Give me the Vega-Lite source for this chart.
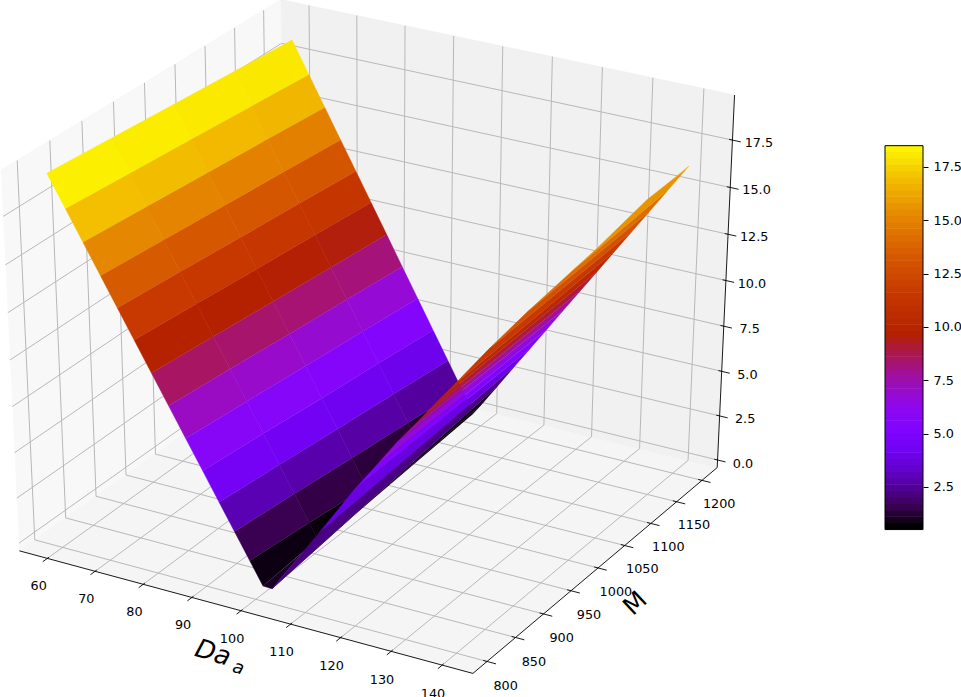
{"$schema":"https://vega.github.io/schema/vega-lite/v6.json","width":961,"height":697,"padding":0,"autosize":{"type":"none"},"background":"white","config":{"view":{"stroke":null},"font":"DejaVu Sans"},
"data":{"values":[
{"kind":"floor","p":"floor","da":[54.1,145.97,145.97,54.1],"m":[775.4,775.4,1230.4,1230.4],"z":[-0.432,-0.432,-0.432,-0.432]},
{"kind":"left","p":"left","da":[54.1,54.1,54.1,54.1],"m":[775.4,1230.4,1230.4,775.4],"z":[-0.432,-0.432,19.85,19.85]},
{"kind":"back","p":"back","da":[54.1,145.97,145.97,54.1],"m":[1230.4,1230.4,1230.4,1230.4],"z":[-0.432,-0.432,19.85,19.85]},
{"kind":"grid","p":"gd60","da":[60,60,60],"m":[775.4,1230.4,1230.4],"z":[-0.432,-0.432,19.85]},
{"kind":"grid","p":"gd70","da":[70,70,70],"m":[775.4,1230.4,1230.4],"z":[-0.432,-0.432,19.85]},
{"kind":"grid","p":"gd80","da":[80,80,80],"m":[775.4,1230.4,1230.4],"z":[-0.432,-0.432,19.85]},
{"kind":"grid","p":"gd90","da":[90,90,90],"m":[775.4,1230.4,1230.4],"z":[-0.432,-0.432,19.85]},
{"kind":"grid","p":"gd100","da":[100,100,100],"m":[775.4,1230.4,1230.4],"z":[-0.432,-0.432,19.85]},
{"kind":"grid","p":"gd110","da":[110,110,110],"m":[775.4,1230.4,1230.4],"z":[-0.432,-0.432,19.85]},
{"kind":"grid","p":"gd120","da":[120,120,120],"m":[775.4,1230.4,1230.4],"z":[-0.432,-0.432,19.85]},
{"kind":"grid","p":"gd130","da":[130,130,130],"m":[775.4,1230.4,1230.4],"z":[-0.432,-0.432,19.85]},
{"kind":"grid","p":"gd140","da":[140,140,140],"m":[775.4,1230.4,1230.4],"z":[-0.432,-0.432,19.85]},
{"kind":"grid","p":"gm800","da":[145.97,54.1,54.1],"m":[800,800,800],"z":[-0.432,-0.432,19.85]},
{"kind":"grid","p":"gm850","da":[145.97,54.1,54.1],"m":[850,850,850],"z":[-0.432,-0.432,19.85]},
{"kind":"grid","p":"gm900","da":[145.97,54.1,54.1],"m":[900,900,900],"z":[-0.432,-0.432,19.85]},
{"kind":"grid","p":"gm950","da":[145.97,54.1,54.1],"m":[950,950,950],"z":[-0.432,-0.432,19.85]},
{"kind":"grid","p":"gm1000","da":[145.97,54.1,54.1],"m":[1000,1000,1000],"z":[-0.432,-0.432,19.85]},
{"kind":"grid","p":"gm1050","da":[145.97,54.1,54.1],"m":[1050,1050,1050],"z":[-0.432,-0.432,19.85]},
{"kind":"grid","p":"gm1100","da":[145.97,54.1,54.1],"m":[1100,1100,1100],"z":[-0.432,-0.432,19.85]},
{"kind":"grid","p":"gm1150","da":[145.97,54.1,54.1],"m":[1150,1150,1150],"z":[-0.432,-0.432,19.85]},
{"kind":"grid","p":"gm1200","da":[145.97,54.1,54.1],"m":[1200,1200,1200],"z":[-0.432,-0.432,19.85]},
{"kind":"grid","p":"gz0","da":[54.1,54.1,145.97],"m":[775.4,1230.4,1230.4],"z":[0,0,0]},
{"kind":"grid","p":"gz2","da":[54.1,54.1,145.97],"m":[775.4,1230.4,1230.4],"z":[2.5,2.5,2.5]},
{"kind":"grid","p":"gz5","da":[54.1,54.1,145.97],"m":[775.4,1230.4,1230.4],"z":[5,5,5]},
{"kind":"grid","p":"gz7","da":[54.1,54.1,145.97],"m":[775.4,1230.4,1230.4],"z":[7.5,7.5,7.5]},
{"kind":"grid","p":"gz10","da":[54.1,54.1,145.97],"m":[775.4,1230.4,1230.4],"z":[10,10,10]},
{"kind":"grid","p":"gz12","da":[54.1,54.1,145.97],"m":[775.4,1230.4,1230.4],"z":[12.5,12.5,12.5]},
{"kind":"grid","p":"gz15","da":[54.1,54.1,145.97],"m":[775.4,1230.4,1230.4],"z":[15,15,15]},
{"kind":"grid","p":"gz17","da":[54.1,54.1,145.97],"m":[775.4,1230.4,1230.4],"z":[17.5,17.5,17.5]},
{"kind":"axis","p":"axd","da":[54.1,145.97],"m":[775.4,775.4],"z":[-0.432,-0.432]},
{"kind":"axis","p":"axm","da":[145.97,145.97],"m":[775.4,1230.4],"z":[-0.432,-0.432]},
{"kind":"axis","p":"axz","da":[145.97,145.97],"m":[1230.4,1230.4],"z":[-0.432,19.85]},
{"kind":"axis","p":"td60","da":[60,60],"m":[768,778],"z":[-0.432,-0.432]},
{"kind":"axis","p":"td70","da":[70,70],"m":[768,778],"z":[-0.432,-0.432]},
{"kind":"axis","p":"td80","da":[80,80],"m":[768,778],"z":[-0.432,-0.432]},
{"kind":"axis","p":"td90","da":[90,90],"m":[768,778],"z":[-0.432,-0.432]},
{"kind":"axis","p":"td100","da":[100,100],"m":[768,778],"z":[-0.432,-0.432]},
{"kind":"axis","p":"td110","da":[110,110],"m":[768,778],"z":[-0.432,-0.432]},
{"kind":"axis","p":"td120","da":[120,120],"m":[768,778],"z":[-0.432,-0.432]},
{"kind":"axis","p":"td130","da":[130,130],"m":[768,778],"z":[-0.432,-0.432]},
{"kind":"axis","p":"td140","da":[140,140],"m":[768,778],"z":[-0.432,-0.432]},
{"kind":"axis","p":"tm800","da":[145.2,147.7],"m":[800,800],"z":[-0.432,-0.432]},
{"kind":"axis","p":"tm850","da":[145.2,147.7],"m":[850,850],"z":[-0.432,-0.432]},
{"kind":"axis","p":"tm900","da":[145.2,147.7],"m":[900,900],"z":[-0.432,-0.432]},
{"kind":"axis","p":"tm950","da":[145.2,147.7],"m":[950,950],"z":[-0.432,-0.432]},
{"kind":"axis","p":"tm1000","da":[145.2,147.7],"m":[1000,1000],"z":[-0.432,-0.432]},
{"kind":"axis","p":"tm1050","da":[145.2,147.7],"m":[1050,1050],"z":[-0.432,-0.432]},
{"kind":"axis","p":"tm1100","da":[145.2,147.7],"m":[1100,1100],"z":[-0.432,-0.432]},
{"kind":"axis","p":"tm1150","da":[145.2,147.7],"m":[1150,1150],"z":[-0.432,-0.432]},
{"kind":"axis","p":"tm1200","da":[145.2,147.7],"m":[1200,1200],"z":[-0.432,-0.432]},
{"kind":"axis","p":"tz0","da":[145.3,147.6],"m":[1230.4,1230.4],"z":[0,0]},
{"kind":"axis","p":"tz2","da":[145.3,147.6],"m":[1230.4,1230.4],"z":[2.5,2.5]},
{"kind":"axis","p":"tz5","da":[145.3,147.6],"m":[1230.4,1230.4],"z":[5,5]},
{"kind":"axis","p":"tz7","da":[145.3,147.6],"m":[1230.4,1230.4],"z":[7.5,7.5]},
{"kind":"axis","p":"tz10","da":[145.3,147.6],"m":[1230.4,1230.4],"z":[10,10]},
{"kind":"axis","p":"tz12","da":[145.3,147.6],"m":[1230.4,1230.4],"z":[12.5,12.5]},
{"kind":"axis","p":"tz15","da":[145.3,147.6],"m":[1230.4,1230.4],"z":[15,15]},
{"kind":"axis","p":"tz17","da":[145.3,147.6],"m":[1230.4,1230.4],"z":[17.5,17.5]},
{"kind":"surf","p":"a1","da":[60,63.5,63.5,60],"m":[800,800,900,900],"z":[19.55,17.94,17.68,19.31]},
{"kind":"surf","p":"a2","da":[60,63.5,63.5,60],"m":[900,900,1000,1000],"z":[19.31,17.68,17.43,19.07]},
{"kind":"surf","p":"a3","da":[60,63.5,63.5,60],"m":[1000,1000,1100,1100],"z":[19.07,17.43,17.17,18.83]},
{"kind":"surf","p":"a4","da":[60,63.5,63.5,60],"m":[1100,1100,1200,1200],"z":[18.83,17.17,16.91,18.59]},
{"kind":"surf","p":"b1","da":[63.5,66.8,66.8,63.5],"m":[800,800,900,900],"z":[17.94,16.42,16.15,17.68]},
{"kind":"surf","p":"b2","da":[63.5,66.8,66.8,63.5],"m":[900,900,1000,1000],"z":[17.68,16.15,15.87,17.43]},
{"kind":"surf","p":"b3","da":[63.5,66.8,66.8,63.5],"m":[1000,1000,1100,1100],"z":[17.43,15.87,15.61,17.17]},
{"kind":"surf","p":"b4","da":[63.5,66.8,66.8,63.5],"m":[1100,1100,1200,1200],"z":[17.17,15.61,15.33,16.91]},
{"kind":"surf","p":"c1","da":[66.8,70.1,70.1,66.8],"m":[800,800,900,900],"z":[16.42,14.89,14.61,16.15]},
{"kind":"surf","p":"c2","da":[66.8,70.1,70.1,66.8],"m":[900,900,1000,1000],"z":[16.15,14.61,14.32,15.87]},
{"kind":"surf","p":"c3","da":[66.8,70.1,70.1,66.8],"m":[1000,1000,1100,1100],"z":[15.87,14.32,14.04,15.61]},
{"kind":"surf","p":"c4","da":[66.8,70.1,70.1,66.8],"m":[1100,1100,1200,1200],"z":[15.61,14.04,13.75,15.33]},
{"kind":"surf","p":"d1","da":[70.1,73.3,73.3,70.1],"m":[800,800,900,900],"z":[14.89,13.42,13.13,14.61]},
{"kind":"surf","p":"d2","da":[70.1,73.3,73.3,70.1],"m":[900,900,1000,1000],"z":[14.61,13.13,12.82,14.32]},
{"kind":"surf","p":"d3","da":[70.1,73.3,73.3,70.1],"m":[1000,1000,1100,1100],"z":[14.32,12.82,12.53,14.04]},
{"kind":"surf","p":"d4","da":[70.1,73.3,73.3,70.1],"m":[1100,1100,1200,1200],"z":[14.04,12.53,12.22,13.75]},
{"kind":"surf","p":"e1","da":[73.3,76.5,76.5,73.3],"m":[800,800,900,900],"z":[13.42,11.94,11.64,13.13]},
{"kind":"surf","p":"e2","da":[73.3,76.5,76.5,73.3],"m":[900,900,1000,1000],"z":[13.13,11.64,11.31,12.82]},
{"kind":"surf","p":"e3","da":[73.3,76.5,76.5,73.3],"m":[1000,1000,1100,1100],"z":[12.82,11.31,11.01,12.53]},
{"kind":"surf","p":"e4","da":[73.3,76.5,76.5,73.3],"m":[1100,1100,1200,1200],"z":[12.53,11.01,10.69,12.22]},
{"kind":"surf","p":"f1","da":[76.5,79.8,79.8,76.5],"m":[800,800,900,900],"z":[11.94,10.42,10.1,11.64]},
{"kind":"surf","p":"f2","da":[76.5,79.8,79.8,76.5],"m":[900,900,1000,1000],"z":[11.64,10.1,9.76,11.31]},
{"kind":"surf","p":"f3","da":[76.5,79.8,79.8,76.5],"m":[1000,1000,1100,1100],"z":[11.31,9.76,9.44,11.01]},
{"kind":"surf","p":"f4","da":[76.5,79.8,79.8,76.5],"m":[1100,1100,1200,1200],"z":[11.01,9.44,9.11,10.69]},
{"kind":"surf","p":"g1","da":[79.8,83.1,83.1,79.8],"m":[800,800,900,900],"z":[10.42,8.9,8.57,10.1]},
{"kind":"surf","p":"g2","da":[79.8,83.1,83.1,79.8],"m":[900,900,1000,1000],"z":[10.1,8.57,8.21,9.76]},
{"kind":"surf","p":"g3","da":[79.8,83.1,83.1,79.8],"m":[1000,1000,1100,1100],"z":[9.76,8.21,7.88,9.44]},
{"kind":"surf","p":"g4","da":[79.8,83.1,83.1,79.8],"m":[1100,1100,1200,1200],"z":[9.44,7.88,7.52,9.11]},
{"kind":"surf","p":"h1","da":[83.1,86.4,86.4,83.1],"m":[800,800,900,900],"z":[8.9,7.38,7.03,8.57]},
{"kind":"surf","p":"h2","da":[83.1,86.4,86.4,83.1],"m":[900,900,1000,1000],"z":[8.57,7.03,6.66,8.21]},
{"kind":"surf","p":"h3","da":[83.1,86.4,86.4,83.1],"m":[1000,1000,1100,1100],"z":[8.21,6.66,6.32,7.88]},
{"kind":"surf","p":"h4","da":[83.1,86.4,86.4,83.1],"m":[1100,1100,1200,1200],"z":[7.88,6.32,5.94,7.52]},
{"kind":"surf","p":"i1","da":[86.4,89.7,89.7,86.4],"m":[800,800,900,900],"z":[7.38,5.86,5.5,7.03]},
{"kind":"surf","p":"i2","da":[86.4,89.7,89.7,86.4],"m":[900,900,1000,1000],"z":[7.03,5.5,5.11,6.66]},
{"kind":"surf","p":"i3","da":[86.4,89.7,89.7,86.4],"m":[1000,1000,1100,1100],"z":[6.66,5.11,4.75,6.32]},
{"kind":"surf","p":"i4","da":[86.4,89.7,89.7,86.4],"m":[1100,1100,1200,1200],"z":[6.32,4.75,4.36,5.94]},
{"kind":"surf","p":"j1","da":[89.7,92.9,92.9,89.7],"m":[800,800,900,900],"z":[5.86,4.38,4.01,5.5]},
{"kind":"surf","p":"j2","da":[89.7,92.9,92.9,89.7],"m":[900,900,1000,1000],"z":[5.5,4.01,3.61,5.11]},
{"kind":"surf","p":"j3","da":[89.7,92.9,92.9,89.7],"m":[1000,1000,1100,1100],"z":[5.11,3.61,3.24,4.75]},
{"kind":"surf","p":"j4","da":[89.7,92.9,92.9,89.7],"m":[1100,1100,1200,1200],"z":[4.75,3.24,2.83,4.36]},
{"kind":"surf","p":"k1","da":[92.9,95.9,95.9,92.9],"m":[800,800,900,900],"z":[4.38,3,2.62,4.01]},
{"kind":"surf","p":"k2","da":[92.9,95.9,95.9,92.9],"m":[900,900,1000,1000],"z":[4.01,2.62,2.2,3.61]},
{"kind":"surf","p":"k3","da":[92.9,95.9,95.9,92.9],"m":[1000,1000,1100,1100],"z":[3.61,2.2,1.81,3.24]},
{"kind":"surf","p":"k4","da":[92.9,95.9,95.9,92.9],"m":[1100,1100,1200,1200],"z":[3.24,1.81,1.39,2.83]},
{"kind":"surf","p":"l1","da":[95.9,98.9,98.9,95.9],"m":[800,800,900,900],"z":[3,1.62,1.22,2.62]},
{"kind":"surf","p":"l2","da":[95.9,98.9,98.9,95.9],"m":[900,900,1000,1000],"z":[2.62,1.22,0.79,2.2]},
{"kind":"surf","p":"l3","da":[95.9,98.9,98.9,95.9],"m":[1000,1000,1100,1100],"z":[2.2,0.79,0.39,1.81]},
{"kind":"surf","p":"l4","da":[95.9,98.9,98,95.9],"m":[1100,1100,1200,1200],"z":[1.81,0.39,0.39,1.39]},
{"kind":"surf","p":"n1","da":[98.9,101.5,100.6,98.9],"m":[800,800,900,900],"z":[1.62,0.42,0.43,1.22]},
{"kind":"surf","p":"n2","da":[98.9,100.6,99.75,98.9],"m":[900,900,1000,1000],"z":[1.22,0.43,0.39,0.79]},
{"kind":"surf","p":"n3","da":[98.9,99.75,98.9],"m":[1000,1000,1100],"z":[0.79,0.39,0.39]},
{"kind":"surf","p":"w0","da":[100,100,98],"m":[971,1200,1200],"z":[0.05,0.77,0.05]},
{"kind":"surf","p":"wa","da":[101.5,103.33,106.67,100],"m":[800,800,852,971],"z":[0.42,0.4,2.4,0.4]},
{"kind":"surf","p":"w1","da":[100,103.33,103.33,100],"m":[971,800,1200,1200],"z":[0.05,0.4,2.05,0.77]},
{"kind":"surf","p":"w2","da":[103.33,106.67,106.67,103.33],"m":[800,852,1200,1200],"z":[0.4,2.4,3.34,2.05]},
{"kind":"surf","p":"w3","da":[106.67,110,110,106.67],"m":[852,883,1200,1200],"z":[2.4,4.2,4.62,3.34]},
{"kind":"surf","p":"w4","da":[110,113.33,113.33,110],"m":[883,891,1200,1200],"z":[4.2,5.5,5.9,4.62]},
{"kind":"surf","p":"w5","da":[113.33,116.67,116.67,113.33],"m":[891,900,1200,1200],"z":[5.5,6.85,7.19,5.9]},
{"kind":"surf","p":"w6","da":[116.67,120,120,116.67],"m":[900,904,1200,1200],"z":[6.85,8,8.47,7.19]},
{"kind":"surf","p":"w7","da":[120,123.33,123.33,120],"m":[904,907,1200,1200],"z":[8,9.2,9.75,8.47]},
{"kind":"surf","p":"w8","da":[123.33,126.67,126.67,123.33],"m":[907,911,1200,1200],"z":[9.2,10.35,11.04,9.75]},
{"kind":"surf","p":"w9","da":[126.67,130,130,126.67],"m":[911,940,1200,1200],"z":[10.35,11.76,12.32,11.04]},
{"kind":"surf","p":"w10","da":[130,133.33,133.33,130],"m":[940,977,1200,1200],"z":[11.76,13.1,13.6,12.32]},
{"kind":"surf","p":"w11","da":[133.33,136.67,136.67,133.33],"m":[977,1027,1200,1200],"z":[13.1,14.4,14.89,13.6]},
{"kind":"surf","p":"w12","da":[136.67,138.1,139.2,140,140,136.67],"m":[1027,1057,1136,1170,1200,1200],"z":[14.4,15,15.9,16.17,16.17,14.89]},
{"kind":"surf","p":"w13","da":[140,140.7,140],"m":[1170,1200,1200],"z":[16.17,16.44,16.17]},
{"kind":"label","p":"l60","t":"60","da":[60],"m":[760],"z":[-1.59]},
{"kind":"label","p":"l70","t":"70","da":[70],"m":[760],"z":[-1.59]},
{"kind":"label","p":"l80","t":"80","da":[80],"m":[760],"z":[-1.59]},
{"kind":"label","p":"l90","t":"90","da":[90],"m":[760],"z":[-1.59]},
{"kind":"label","p":"l100","t":"100","da":[100],"m":[760],"z":[-1.59]},
{"kind":"label","p":"l110","t":"110","da":[110],"m":[760],"z":[-1.59]},
{"kind":"label","p":"l120","t":"120","da":[120],"m":[760],"z":[-1.59]},
{"kind":"label","p":"l130","t":"130","da":[130],"m":[760],"z":[-1.59]},
{"kind":"label","p":"l140","t":"140","da":[140],"m":[760],"z":[-1.59]},
{"kind":"label","p":"l800","t":"800","da":[149.64],"m":[800],"z":[-1.51]},
{"kind":"label","p":"l850","t":"850","da":[149.64],"m":[850],"z":[-1.51]},
{"kind":"label","p":"l900","t":"900","da":[149.64],"m":[900],"z":[-1.51]},
{"kind":"label","p":"l950","t":"950","da":[149.64],"m":[950],"z":[-1.51]},
{"kind":"label","p":"l1000","t":"1000","da":[149.64],"m":[1000],"z":[-1.51]},
{"kind":"label","p":"l1050","t":"1050","da":[149.64],"m":[1050],"z":[-1.51]},
{"kind":"label","p":"l1100","t":"1100","da":[149.64],"m":[1100],"z":[-1.51]},
{"kind":"label","p":"l1150","t":"1150","da":[149.64],"m":[1150],"z":[-1.51]},
{"kind":"label","p":"l1200","t":"1200","da":[149.64],"m":[1200],"z":[-1.51]},
{"kind":"label","p":"lz0","t":"0.0","da":[151.1],"m":[1230.4],"z":[0.15]},
{"kind":"label","p":"lz2","t":"2.5","da":[151.1],"m":[1230.4],"z":[2.65]},
{"kind":"label","p":"lz5","t":"5.0","da":[151.1],"m":[1230.4],"z":[5.15]},
{"kind":"label","p":"lz7","t":"7.5","da":[151.1],"m":[1230.4],"z":[7.65]},
{"kind":"label","p":"lz10","t":"10.0","da":[151.1],"m":[1230.4],"z":[10.15]},
{"kind":"label","p":"lz12","t":"12.5","da":[151.1],"m":[1230.4],"z":[12.65]},
{"kind":"label","p":"lz15","t":"15.0","da":[151.1],"m":[1230.4],"z":[15.15]},
{"kind":"label","p":"lz17","t":"17.5","da":[151.1],"m":[1230.4],"z":[17.65]},
{"kind":"titleDa","p":"tDa","t":"Da","da":[96.3],"m":[757.8],"z":[-2.6]},
{"kind":"titleSub","p":"tSub","t":"a","da":[103.2],"m":[743.4],"z":[-2.55]},
{"kind":"titleM","p":"tM","t":"M","da":[151.7],"m":[1018],"z":[-2.46]},
{"kind":"cb","p":"cb","da":[60],"m":[800],"z":[2.5]},
{"kind":"cbox","p":"cbox","da":[60],"m":[800],"z":[0.5],"z2":18.5},
{"kind":"cbar","p":"cb1","da":[60],"m":[800],"z":[0.5],"z2":0.83},
{"kind":"cbar","p":"cb2","da":[60],"m":[800],"z":[0.8],"z2":1.13},
{"kind":"cbar","p":"cb3","da":[60],"m":[800],"z":[1.1],"z2":1.43},
{"kind":"cbar","p":"cb4","da":[60],"m":[800],"z":[1.4],"z2":1.73},
{"kind":"cbar","p":"cb5","da":[60],"m":[800],"z":[1.7],"z2":2.03},
{"kind":"cbar","p":"cb6","da":[60],"m":[800],"z":[2.0],"z2":2.33},
{"kind":"cbar","p":"cb7","da":[60],"m":[800],"z":[2.3],"z2":2.63},
{"kind":"cbar","p":"cb8","da":[60],"m":[800],"z":[2.6],"z2":2.93},
{"kind":"cbar","p":"cb9","da":[60],"m":[800],"z":[2.9],"z2":3.23},
{"kind":"cbar","p":"cb10","da":[60],"m":[800],"z":[3.2],"z2":3.53},
{"kind":"cbar","p":"cb11","da":[60],"m":[800],"z":[3.5],"z2":3.83},
{"kind":"cbar","p":"cb12","da":[60],"m":[800],"z":[3.8],"z2":4.13},
{"kind":"cbar","p":"cb13","da":[60],"m":[800],"z":[4.1],"z2":4.43},
{"kind":"cbar","p":"cb14","da":[60],"m":[800],"z":[4.4],"z2":4.73},
{"kind":"cbar","p":"cb15","da":[60],"m":[800],"z":[4.7],"z2":5.03},
{"kind":"cbar","p":"cb16","da":[60],"m":[800],"z":[5.0],"z2":5.33},
{"kind":"cbar","p":"cb17","da":[60],"m":[800],"z":[5.3],"z2":5.63},
{"kind":"cbar","p":"cb18","da":[60],"m":[800],"z":[5.6],"z2":5.93},
{"kind":"cbar","p":"cb19","da":[60],"m":[800],"z":[5.9],"z2":6.23},
{"kind":"cbar","p":"cb20","da":[60],"m":[800],"z":[6.2],"z2":6.53},
{"kind":"cbar","p":"cb21","da":[60],"m":[800],"z":[6.5],"z2":6.83},
{"kind":"cbar","p":"cb22","da":[60],"m":[800],"z":[6.8],"z2":7.13},
{"kind":"cbar","p":"cb23","da":[60],"m":[800],"z":[7.1],"z2":7.43},
{"kind":"cbar","p":"cb24","da":[60],"m":[800],"z":[7.4],"z2":7.73},
{"kind":"cbar","p":"cb25","da":[60],"m":[800],"z":[7.7],"z2":8.03},
{"kind":"cbar","p":"cb26","da":[60],"m":[800],"z":[8.0],"z2":8.33},
{"kind":"cbar","p":"cb27","da":[60],"m":[800],"z":[8.3],"z2":8.63},
{"kind":"cbar","p":"cb28","da":[60],"m":[800],"z":[8.6],"z2":8.93},
{"kind":"cbar","p":"cb29","da":[60],"m":[800],"z":[8.9],"z2":9.23},
{"kind":"cbar","p":"cb30","da":[60],"m":[800],"z":[9.2],"z2":9.53},
{"kind":"cbar","p":"cb31","da":[60],"m":[800],"z":[9.5],"z2":9.83},
{"kind":"cbar","p":"cb32","da":[60],"m":[800],"z":[9.8],"z2":10.13},
{"kind":"cbar","p":"cb33","da":[60],"m":[800],"z":[10.1],"z2":10.43},
{"kind":"cbar","p":"cb34","da":[60],"m":[800],"z":[10.4],"z2":10.73},
{"kind":"cbar","p":"cb35","da":[60],"m":[800],"z":[10.7],"z2":11.03},
{"kind":"cbar","p":"cb36","da":[60],"m":[800],"z":[11.0],"z2":11.33},
{"kind":"cbar","p":"cb37","da":[60],"m":[800],"z":[11.3],"z2":11.63},
{"kind":"cbar","p":"cb38","da":[60],"m":[800],"z":[11.6],"z2":11.93},
{"kind":"cbar","p":"cb39","da":[60],"m":[800],"z":[11.9],"z2":12.23},
{"kind":"cbar","p":"cb40","da":[60],"m":[800],"z":[12.2],"z2":12.53},
{"kind":"cbar","p":"cb41","da":[60],"m":[800],"z":[12.5],"z2":12.83},
{"kind":"cbar","p":"cb42","da":[60],"m":[800],"z":[12.8],"z2":13.13},
{"kind":"cbar","p":"cb43","da":[60],"m":[800],"z":[13.1],"z2":13.43},
{"kind":"cbar","p":"cb44","da":[60],"m":[800],"z":[13.4],"z2":13.73},
{"kind":"cbar","p":"cb45","da":[60],"m":[800],"z":[13.7],"z2":14.03},
{"kind":"cbar","p":"cb46","da":[60],"m":[800],"z":[14.0],"z2":14.33},
{"kind":"cbar","p":"cb47","da":[60],"m":[800],"z":[14.3],"z2":14.63},
{"kind":"cbar","p":"cb48","da":[60],"m":[800],"z":[14.6],"z2":14.93},
{"kind":"cbar","p":"cb49","da":[60],"m":[800],"z":[14.9],"z2":15.23},
{"kind":"cbar","p":"cb50","da":[60],"m":[800],"z":[15.2],"z2":15.53},
{"kind":"cbar","p":"cb51","da":[60],"m":[800],"z":[15.5],"z2":15.83},
{"kind":"cbar","p":"cb52","da":[60],"m":[800],"z":[15.8],"z2":16.13},
{"kind":"cbar","p":"cb53","da":[60],"m":[800],"z":[16.1],"z2":16.43},
{"kind":"cbar","p":"cb54","da":[60],"m":[800],"z":[16.4],"z2":16.73},
{"kind":"cbar","p":"cb55","da":[60],"m":[800],"z":[16.7],"z2":17.03},
{"kind":"cbar","p":"cb56","da":[60],"m":[800],"z":[17.0],"z2":17.33},
{"kind":"cbar","p":"cb57","da":[60],"m":[800],"z":[17.3],"z2":17.63},
{"kind":"cbar","p":"cb58","da":[60],"m":[800],"z":[17.6],"z2":17.93},
{"kind":"cbar","p":"cb59","da":[60],"m":[800],"z":[17.9],"z2":18.23},
{"kind":"cbar","p":"cb60","da":[60],"m":[800],"z":[18.2],"z2":18.5}
]},
"transform":[
{"flatten":["da","m","z"]},
{"window":[{"op":"row_number","as":"k"}],"groupby":["p"]},
{"joinaggregate":[{"op":"mean","field":"z","as":"zm"}],"groupby":["p"]},
{"calculate":"datum.kind=='surf'&&datum.p[0]!='w'?'band'+datum.p[0]:datum.p","as":"bd"},
{"joinaggregate":[{"op":"mean","field":"z","as":"zb"}],"groupby":["bd"]},
{"calculate":"datum.kind=='surf'&&datum.p[0]!='w'?{a:18.0,b:16.7,c:14.9,d:13.1,e:11.3,f:9.5,g:8.2,h:6.8,i:5.4,j:4.1,k:2.6,l:1.25,n:0.65}[datum.p[0]]:datum.zb","as":"zr"},
{"calculate":"datum.zr+0.3*(datum.zm-datum.zb)","as":"zc"},
{"calculate":"(datum.da-54.1)/91.87-0.5","as":"a"},
{"calculate":"(datum.m-775.4)/455-0.5","as":"b"},
{"calculate":"(datum.z+0.432)/20.282-0.5","as":"c"},
{"calculate":"10-0.433*datum.a+0.75*datum.b-0.5*datum.c","as":"dep"},
{"calculate":"373.7+5235*(0.866*datum.a+0.5*datum.b)/datum.dep","as":"px"},
{"calculate":"325-4345*(-0.25*datum.a+0.433*datum.b+0.866*datum.c)/datum.dep","as":"py"}
],
"encoding":{
"x":{"field":"px","type":"quantitative","axis":null,"scale":{"domain":[0,961],"nice":false,"zero":false}},
"y":{"field":"py","type":"quantitative","axis":null,"scale":{"domain":[697,0],"nice":false,"zero":false}}
},
"layer":[
{"transform":[{"filter":"datum.kind=='floor'"}],"mark":{"type":"line","fill":"#f5f5f5","stroke":"#f2f2f2","strokeWidth":0.5},"encoding":{"order":{"field":"k"}}},
{"transform":[{"filter":"datum.kind=='left'"}],"mark":{"type":"line","fill":"#f8f8f8","stroke":"#f2f2f2","strokeWidth":0.5},"encoding":{"order":{"field":"k"}}},
{"transform":[{"filter":"datum.kind=='back'"}],"mark":{"type":"line","fill":"#f1f1f1","stroke":"#eeeeee","strokeWidth":0.5},"encoding":{"order":{"field":"k"}}},
{"transform":[{"filter":"datum.kind=='grid'"}],"mark":{"type":"line","stroke":"#b8b8b8","strokeWidth":1},"encoding":{"detail":{"field":"p"},"order":{"field":"k"}}},
{"transform":[{"filter":"datum.kind=='axis'"}],"mark":{"type":"line","stroke":"#000000","strokeWidth":0.9},"encoding":{"detail":{"field":"p"},"order":{"field":"k"}}},
{"transform":[{"filter":"datum.kind=='surf'"}],"mark":{"type":"line","strokeWidth":0.5},"encoding":{"detail":{"field":"p"},"order":{"field":"k"},
"stroke":{"field":"zc","type":"quantitative","legend":null,"scale":{"domain":[0.5,1.4,2.3,3.2,4.1,5,5.9,6.8,7.7,8.6,9.5,11.3,13.1,14.9,16.7,18.5],"range":["#000000","#39004f","#510096","#6301ce","#7202f3","#8004ff","#8c07f3","#970bce","#a11096","#ab174f","#b42000","#c63700","#d55700","#e48300","#f2ba00","#ffff00"],"interpolate":"rgb"}},
"fill":{"field":"zc","type":"quantitative","legend":null,"scale":{"domain":[0.5,1.4,2.3,3.2,4.1,5,5.9,6.8,7.7,8.6,9.5,11.3,13.1,14.9,16.7,18.5],"range":["#000000","#39004f","#510096","#6301ce","#7202f3","#8004ff","#8c07f3","#970bce","#a11096","#ab174f","#b42000","#c63700","#d55700","#e48300","#f2ba00","#ffff00"],"interpolate":"rgb"}}}},
{"transform":[{"filter":"datum.kind=='label'"}],"mark":{"type":"text","font":"DejaVu Sans","fontSize":12.8,"color":"#000000","align":"center","baseline":"middle"},"encoding":{"text":{"field":"t"}}},
{"transform":[{"filter":"datum.kind=='titleDa'"}],"mark":{"type":"text","font":"DejaVu Sans","fontStyle":"italic","fontSize":26,"angle":17,"color":"#000000","align":"center","baseline":"middle"},"encoding":{"text":{"field":"t"}}},
{"transform":[{"filter":"datum.kind=='titleSub'"}],"mark":{"type":"text","font":"DejaVu Sans","fontStyle":"italic","fontSize":18,"angle":17,"color":"#000000","align":"center","baseline":"middle"},"encoding":{"text":{"field":"t"}}},
{"transform":[{"filter":"datum.kind=='titleM'"}],"mark":{"type":"text","font":"DejaVu Sans","fontSize":25,"angle":-43,"color":"#000000","align":"center","baseline":"middle"},"encoding":{"text":{"field":"t"}}},
{"transform":[{"filter":"datum.kind=='cbar'"}],"mark":{"type":"rect"},"encoding":{"x":{"value":885},"x2":{"value":923},"y":{"field":"z","type":"quantitative","axis":null,"scale":{"domain":[-7.35,25.33],"nice":false,"zero":false}},"y2":{"field":"z2"},
"fill":{"field":"zc","type":"quantitative","legend":null,"scale":{"domain":[0.5,1.4,2.3,3.2,4.1,5,5.9,6.8,7.7,8.6,9.5,11.3,13.1,14.9,16.7,18.5],"range":["#000000","#39004f","#510096","#6301ce","#7202f3","#8004ff","#8c07f3","#970bce","#a11096","#ab174f","#b42000","#c63700","#d55700","#e48300","#f2ba00","#ffff00"],"interpolate":"rgb"}}}},
{"transform":[{"filter":"datum.kind=='cbox'"}],"mark":{"type":"rect","fill":null,"fillOpacity":0,"stroke":"#000000","strokeWidth":1},"encoding":{"x":{"value":885},"x2":{"value":923},"y":{"field":"z","type":"quantitative","axis":null,"scale":{"domain":[-7.35,25.33],"nice":false,"zero":false}},"y2":{"field":"z2"}}},
{"transform":[{"filter":"datum.kind=='cb'"}],"mark":{"type":"point","opacity":0},"encoding":{"y":{"field":"z","type":"quantitative","scale":{"domain":[-7.35,25.33],"nice":false,"zero":false},"axis":{"orient":"right","offset":-38,"values":[2.5,5,7.5,10,12.5,15,17.5],"format":".1f","title":null,"domain":false,"grid":false,"tickColor":"#000000","tickSize":5,"tickWidth":1,"labelFont":"DejaVu Sans","labelFontSize":12.8,"labelColor":"#000000","labelPadding":5}}}}
],
"resolve":{"scale":{"y":"independent"},"axis":{"y":"independent"}}
}
